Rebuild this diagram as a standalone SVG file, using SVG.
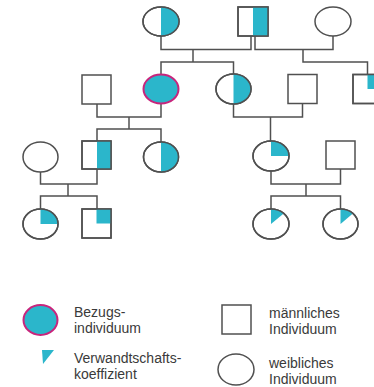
<svg xmlns="http://www.w3.org/2000/svg" width="374" height="387" viewBox="0 0 374 387">
<style>
.o{fill:none;stroke:#505050;stroke-width:1.5}
.ow{fill:#fff;stroke:#505050;stroke-width:1.5}
.f{fill:#2bb6cb;stroke:none}
.c{fill:none;stroke:#505050;stroke-width:1.5;stroke-linejoin:miter}
.b{fill:#2bb6cb;stroke:#c8257c;stroke-width:2}
.t{font-family:"Liberation Sans","Open Sans",sans-serif;font-size:14px;fill:#3a3a3a}
</style>
<rect width="374" height="387" fill="#fff"/>
<g id="connectors">
<polyline class="c" points="161,36 161,49.5 251,49.5 251,36"/>
<polyline class="c" points="193,49.5 193,62"/>
<polyline class="c" points="161,74 161,62 233.5,62 233.5,74"/>
<polyline class="c" points="255,36 255,49.5 333,49.5 333,36"/>
<polyline class="c" points="303,49.5 303,62 367.5,62 367.5,74.5"/>
<polyline class="c" points="97,104 97,117 161,117 161,104"/>
<polyline class="c" points="129,117 129,129"/>
<polyline class="c" points="97,141 97,129 161,129 161,142"/>
<polyline class="c" points="233.5,104 233.5,117 302.5,117 302.5,104"/>
<polyline class="c" points="270.5,117 270.5,141"/>
<polyline class="c" points="40.5,172 40.5,184 97,184 97,169"/>
<polyline class="c" points="68,184 68,196"/>
<polyline class="c" points="40.5,209 40.5,196 97,196 97,209"/>
<polyline class="c" points="271,171 271,184 340.5,184 340.5,169"/>
<polyline class="c" points="306,184 306,196"/>
<polyline class="c" points="271,209 271,196 340.5,196 340.5,209"/>
</g>
<g id="grandmother1">
<ellipse class="ow" cx="161" cy="21.5" rx="18" ry="14.5"/>
<path class="f" d="M161,7 A18,14.5 0 0 1 161,36 Z"/>
<ellipse class="o" cx="161" cy="21.5" rx="18" ry="14.5"/>
</g>
<g id="grandfather">
<rect class="ow" x="238" y="7" width="30" height="29"/>
<rect class="f" x="253" y="7" width="15" height="29"/>
<rect class="o" x="238" y="7" width="30" height="29"/>
</g>
<g id="grandmother2">
<ellipse class="ow" cx="333" cy="21.5" rx="18" ry="14.5"/>
</g>
<g id="husband">
<rect class="ow" x="82" y="75" width="29" height="29"/>
</g>
<g id="bezugsindividuum">
<ellipse class="b" cx="161" cy="89" rx="17.5" ry="14.5"/>
</g>
<g id="aunt">
<ellipse class="ow" cx="233.5" cy="89" rx="17.5" ry="15"/>
<path class="f" d="M233.5,74 A17.5,15 0 0 1 233.5,104 Z"/>
<ellipse class="o" cx="233.5" cy="89" rx="17.5" ry="15"/>
</g>
<g id="uncle-in-law">
<rect class="ow" x="288" y="74.5" width="29" height="29"/>
</g>
<g id="half-uncle">
<rect class="ow" x="353" y="74.5" width="29" height="29"/>
<rect class="f" x="367.5" y="74.5" width="14.5" height="14.5"/>
<rect class="o" x="353" y="74.5" width="29" height="29"/>
</g>
<g id="wife">
<ellipse class="ow" cx="40.5" cy="157" rx="17.5" ry="15"/>
</g>
<g id="son">
<rect class="ow" x="82" y="141" width="29" height="28"/>
<rect class="f" x="97" y="141" width="14" height="28"/>
<rect class="o" x="82" y="141" width="29" height="28"/>
</g>
<g id="daughter">
<ellipse class="ow" cx="161" cy="157" rx="17.5" ry="15"/>
<path class="f" d="M161,142 A17.5,15 0 0 1 161,172 Z"/>
<ellipse class="o" cx="161" cy="157" rx="17.5" ry="15"/>
</g>
<g id="cousin">
<ellipse class="ow" cx="271" cy="156" rx="18" ry="15"/>
<path class="f" d="M271,156 L271,141 A18,15 0 0 1 289,156 Z"/>
<ellipse class="o" cx="271" cy="156" rx="18" ry="15"/>
</g>
<g id="cousin-husband">
<rect class="ow" x="326" y="141" width="29" height="28"/>
</g>
<g id="granddaughter">
<ellipse class="ow" cx="40.5" cy="224" rx="17.5" ry="15"/>
<path class="f" d="M40.5,224 L40.5,209 A17.5,15 0 0 1 58,224 Z"/>
<ellipse class="o" cx="40.5" cy="224" rx="17.5" ry="15"/>
</g>
<g id="grandson">
<rect class="ow" x="82" y="209" width="29" height="29"/>
<rect class="f" x="96.5" y="209" width="14.5" height="14.5"/>
<rect class="o" x="82" y="209" width="29" height="29"/>
</g>
<g id="cousin-child1">
<ellipse class="ow" cx="271" cy="224" rx="18" ry="15"/>
<path class="f" d="M271,224 L271,209 A18,15 0 0 1 283.7,213.4 Z"/>
<ellipse class="o" cx="271" cy="224" rx="18" ry="15"/>
</g>
<g id="cousin-child2">
<ellipse class="ow" cx="340.5" cy="224" rx="17.5" ry="15"/>
<path class="f" d="M340.5,224 L340.5,209 A17.5,15 0 0 1 352.9,213.4 Z"/>
<ellipse class="o" cx="340.5" cy="224" rx="17.5" ry="15"/>
</g>
<g id="legend">
<ellipse class="b" cx="40.5" cy="320" rx="17" ry="15"/>
<text class="t" x="74" y="317">Bezugs-</text>
<text class="t" x="74" y="333">individuum</text>
<polygon class="f" points="42,350 54,350 43,364"/>
<text class="t" x="74" y="362.5">Verwandtschafts-</text>
<text class="t" x="74" y="378.5">koeffizient</text>
<rect class="ow" x="222" y="305" width="29" height="29"/>
<text class="t" x="269" y="318">männliches</text>
<text class="t" x="269" y="334">Individuum</text>
<ellipse class="ow" cx="236" cy="369.5" rx="18" ry="15.5"/>
<text class="t" x="269" y="368">weibliches</text>
<text class="t" x="269" y="384">Individuum</text>
</g>
</svg>
